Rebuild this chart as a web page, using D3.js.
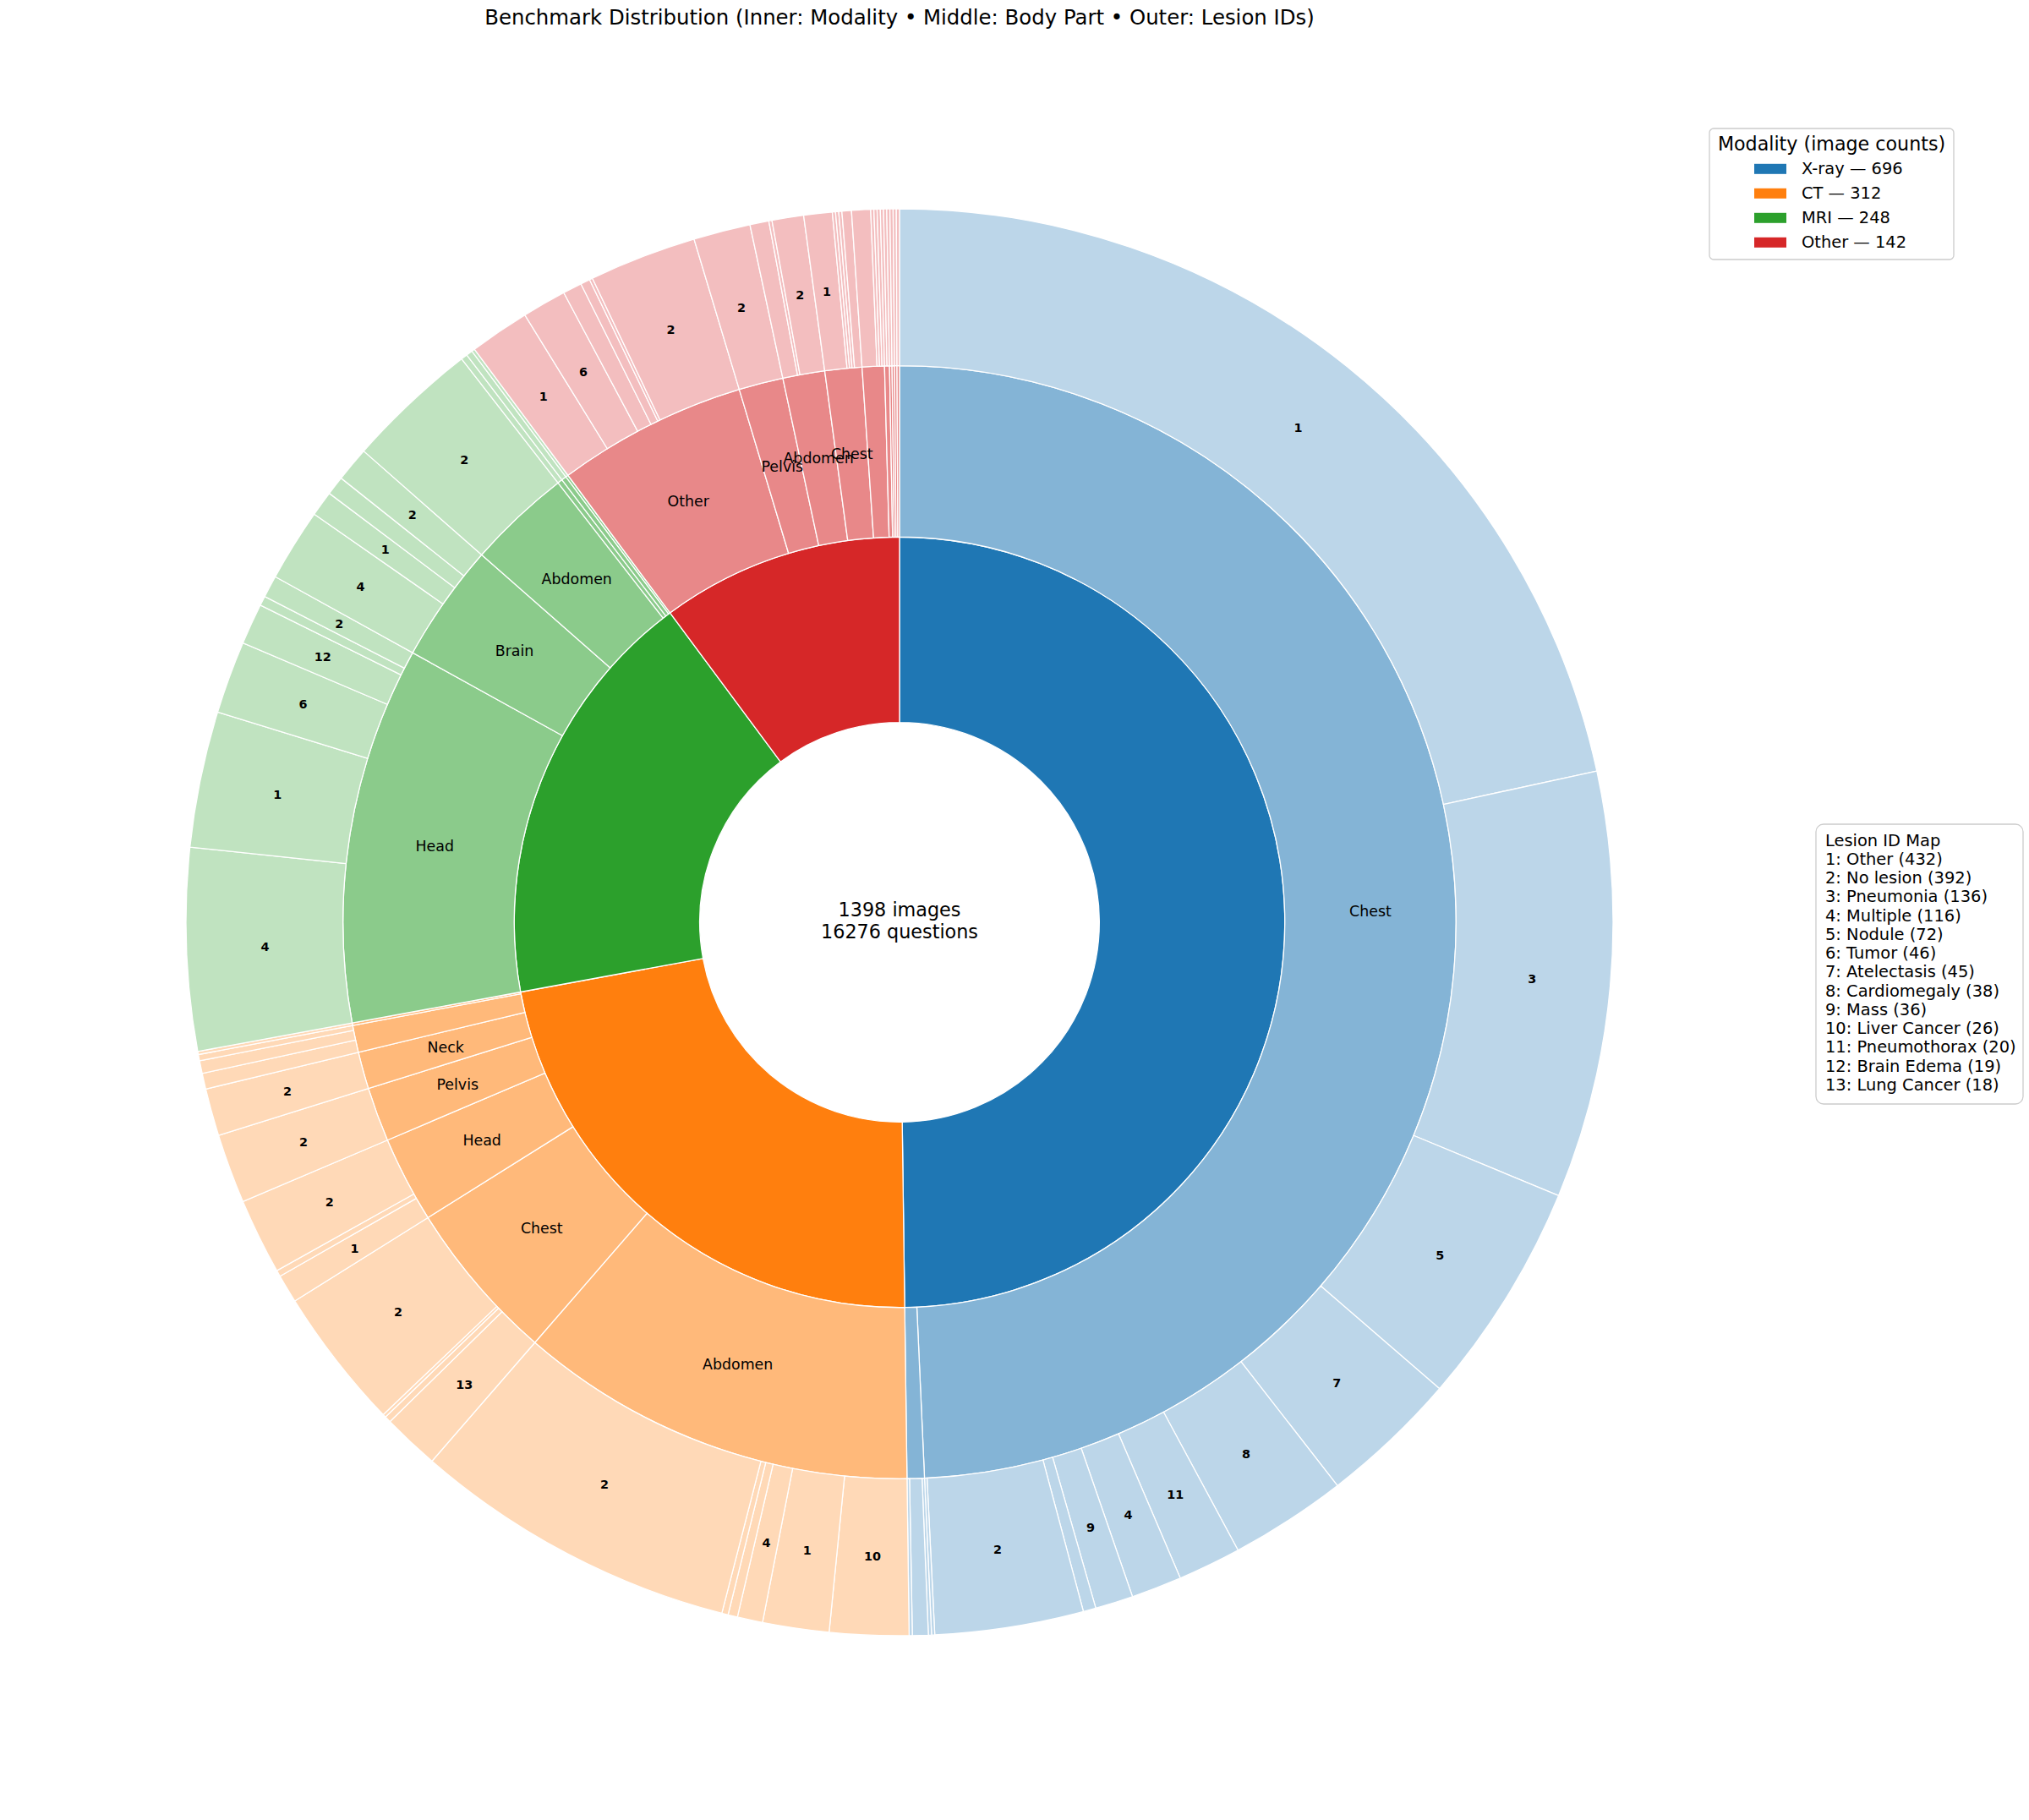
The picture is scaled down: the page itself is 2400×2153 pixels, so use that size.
<!DOCTYPE html>
<html><head><meta charset="utf-8">
<script src="https://cdn.jsdelivr.net/npm/d3@7"></script>
<style>
html,body{margin:0;padding:0;background:#fff;}
svg{display:block;font-family:"DejaVu Sans",sans-serif;}
</style></head><body>
<svg id="chart" width="2400" height="2153"></svg>
<script>
// ---------------- data ----------------
const chartTitle = "Benchmark Distribution (Inner: Modality \u2022 Middle: Body Part \u2022 Outer: Lesion IDs)";
const totalImages = 1398;
const totalQuestions = 16276;

const modalityNames = ["X-ray", "CT", "MRI", "Other"];
const modalityCounts = [696, 312, 248, 142];
const modalityColors = ["#1f77b4", "#ff7f0e", "#2ca02c", "#d62728"];

const lesionIds = [1,2,3,4,5,6,7,8,9,10,11,12,13];
const lesionNames = ["Other","No lesion","Pneumonia","Multiple","Nodule","Tumor","Atelectasis",
  "Cardiomegaly","Mass","Liver Cancer","Pneumothorax","Brain Edema","Lung Cancer"];
const lesionTotals = [432,392,136,116,72,46,45,38,36,26,20,19,18];

// [body part, lesion id, image count] in drawing order (clockwise from top)
const xraySegments = [
  ["Chest",1,302],["Chest",3,135],["Chest",5,71],["Chest",7,44],["Chest",8,37],["Chest",11,20],
  ["Chest",4,16],["Chest",9,12],["Chest",6,4],["Chest",2,47],["Chest",10,1],
  ["Other",1,1],["Other",9,5],["Other",2,1]
];
const ctSegments = [
  ["Abdomen",10,25],["Abdomen",1,21],["Abdomen",4,8],["Abdomen",6,3],["Abdomen",9,2],["Abdomen",2,103],
  ["Chest",13,18],["Chest",9,2],["Chest",5,1],["Chest",2,45],
  ["Head",1,9],["Head",6,2],["Head",2,24],
  ["Pelvis",2,22],
  ["Neck",2,15],
  ["Spine",9,5],["Spine",6,4],["Spine",2,2],
  ["Limb",2,1]
];
const mriSegments = [
  ["Head",4,64],["Head",1,43],["Head",6,23],["Head",12,13],["Head",9,3],["Head",2,7],
  ["Brain",4,23],["Brain",1,8],["Brain",12,6],["Brain",2,11],
  ["Abdomen",2,42],
  ["Spine",2,2],["Pelvis",2,2],["Neck",2,1]
];
const otherSegments = [
  ["Other",1,19],["Other",6,14],["Other",9,6],["Other",4,3],["Other",3,1],["Other",2,34],
  ["Pelvis",2,18],
  ["Abdomen",6,6],["Abdomen",10,1],["Abdomen",2,10],
  ["Chest",1,9],["Chest",3,1],["Chest",5,1],["Chest",7,1],["Chest",8,3],
  ["Head",1,6],["Head",4,1],["Head",6,1],["Head",2,1],
  ["Neck",1,1],["Neck",2,1],
  ["Spine",2,1],["Limb",1,1],["Knee",2,1],["Breast",1,1]
];

// ---------------- layout ----------------
const W = 2400, H = 2153;
const cx = 1064, cy = 1091;
const R = 844;
const ringRadii = [[0.28*R, 0.54*R], [0.54*R, 0.78*R], [0.78*R, 1.0*R]];
const ringAlpha = [1.0, 0.55, 0.30];

const svg = d3.select("#chart");
svg.append("rect").attr("width", W).attr("height", H).attr("fill", "#fff");

const segs = [xraySegments, ctSegments, mriSegments, otherSegments];
const rootData = {name: "root", children: modalityNames.map((m, i) => {
  const parts = [];
  segs[i].forEach(([part, id, n]) => {
    let p = parts.length ? parts[parts.length - 1] : null;
    if (!p || p.name !== part) { p = {name: part, children: []}; parts.push(p); }
    p.children.push({name: String(id), value: n});
  });
  return {name: m, mi: i, children: parts};
})};

const root = d3.hierarchy(rootData).sum(d => d.value || 0);
d3.partition().size([2 * Math.PI, 3])(root);

const arc = d3.arc()
  .startAngle(d => d.x0).endAngle(d => d.x1)
  .innerRadius(d => ringRadii[d.depth - 1][0])
  .outerRadius(d => ringRadii[d.depth - 1][1]);

function colorOf(d) {
  let a = d; while (a.depth > 1) a = a.parent;
  const base = modalityColors[a.data.mi];
  return d3.interpolateRgb("#ffffff", base)(ringAlpha[d.depth - 1]);
}

const g = svg.append("g").attr("transform", `translate(${cx},${cy})`);
const nodes = root.descendants().filter(d => d.depth > 0);

g.selectAll("path.wedge").data(nodes).join("path")
  .attr("class", "wedge")
  .attr("d", arc)
  .attr("fill", colorOf)
  .attr("stroke", "#ffffff")
  .attr("stroke-width", 1.3)
  .attr("stroke-linejoin", "round");

// middle-ring labels (body parts, shown for slices >= 1% of images)
const midMin = 0.01 * root.value;
g.selectAll("text.mid").data(nodes.filter(d => d.depth === 2 && d.value >= midMin)).join("text")
  .attr("class", "mid")
  .attr("transform", d => `translate(${arc.centroid(d)})`)
  .attr("text-anchor", "middle")
  .attr("dominant-baseline", "central")
  .attr("font-size", 17.4)
  .attr("fill", "#000")
  .text(d => d.data.name);

// outer-ring labels (lesion ids, shown for slices >= 0.5% of images)
const outMin = 0.005 * root.value;
g.selectAll("text.out").data(nodes.filter(d => d.depth === 3 && d.value >= outMin)).join("text")
  .attr("class", "out")
  .attr("transform", d => `translate(${arc.centroid(d)})`)
  .attr("text-anchor", "middle")
  .attr("dominant-baseline", "central")
  .attr("font-size", 14.4)
  .attr("font-weight", "bold")
  .attr("fill", "#000")
  .text(d => d.data.name);

// center text
g.append("text").attr("x", 0).attr("y", -15).attr("text-anchor", "middle")
  .attr("dominant-baseline", "central").attr("font-size", 22.3)
  .text(`${totalImages} images`);
g.append("text").attr("x", 0).attr("y", 11).attr("text-anchor", "middle")
  .attr("dominant-baseline", "central").attr("font-size", 22.3)
  .text(`${totalQuestions} questions`);

// title
svg.append("text").attr("x", cx).attr("y", 29).attr("text-anchor", "middle")
  .attr("font-size", 24.4).attr("fill", "#000").text(chartTitle);

// modality legend
const lg = svg.append("g");
lg.append("rect").attr("x", 2022).attr("y", 152).attr("width", 289).attr("height", 155)
  .attr("rx", 5).attr("fill", "#fff").attr("fill-opacity", 0.8)
  .attr("stroke", "#cccccc").attr("stroke-width", 1.3);
lg.append("text").attr("x", 2166.5).attr("y", 178).attr("text-anchor", "middle")
  .attr("font-size", 22.2).text("Modality (image counts)");
const rowY = d3.scaleLinear().domain([0, 1]).range([199.8, 228.8]);
modalityNames.forEach((m, i) => {
  lg.append("rect").attr("x", 2075).attr("y", rowY(i) - 6).attr("width", 38).attr("height", 12)
    .attr("fill", modalityColors[i]);
  lg.append("text").attr("x", 2131).attr("y", rowY(i)).attr("dominant-baseline", "central")
    .attr("font-size", 19.44).text(`${m} \u2014 ${modalityCounts[i]}`);
});

// lesion id map
const mg = svg.append("g");
mg.append("rect").attr("x", 2148).attr("y", 975).attr("width", 245).attr("height", 331)
  .attr("rx", 9).attr("fill", "#fff").attr("fill-opacity", 0.8)
  .attr("stroke", "#cccccc").attr("stroke-width", 1.3);
const mapLines = ["Lesion ID Map"].concat(lesionIds.map((id, i) => `${id}: ${lesionNames[i]} (${lesionTotals[i]})`));
mapLines.forEach((t, i) => {
  mg.append("text").attr("x", 2159).attr("y", 994 + i * 22.25)
    .attr("dominant-baseline", "central").attr("font-size", 19.44).text(t);
});
</script>
</body></html>
